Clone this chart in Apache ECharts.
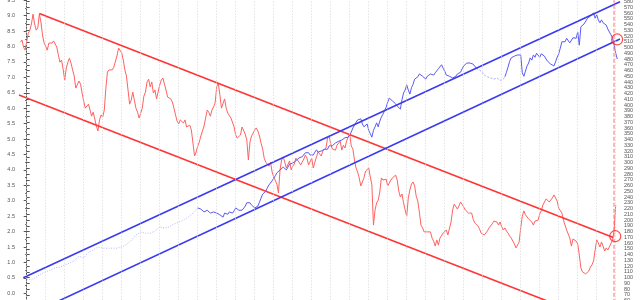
<!DOCTYPE html>
<html><head><meta charset="utf-8">
<script src="https://cdn.jsdelivr.net/npm/echarts@6/dist/echarts.min.js"></script>
<style>html,body{margin:0;padding:0;background:#fff}#c{width:640px;height:300px}</style>
</head><body><div id="c"></div>
<script>
// x unit: months since Jan 1990
const BASE_YEAR = 1990;
const gridYears = [1990,1991,1992,1993,1994,1995,1996,1997,1998,1999,2000,2001,2002,2003,2004,2005,2006,2007,2008,2009,2010,2011,2012,2013,2014,2015,2016,2017,2018,2019,2020,2021];

// red series (left axis), monthly from month -4
const yieldStart = -4;
const yieldValues = [
8.14,8.21,7.98,7.88,
7.82,8.43,8.53,8.73,9.05,8.73,8.53,8.60,9.05,8.79,8.37,8.11,
8.01,7.88,8.11,8.08,8.11,8.18,8.24,7.98,7.72,7.49,7.56,7.27,
6.91,7.30,7.49,7.62,7.46,7.24,7.04,6.65,6.65,6.88,6.78,6.49,
6.23,6.00,5.94,6.13,5.94,5.74,5.87,5.65,5.42,5.26,5.62,5.78,
5.71,5.94,6.65,7.17,7.24,7.27,7.24,7.33,7.30,7.69,7.95,7.98,
7.79,7.56,7.24,7.04,6.59,6.13,6.26,6.52,6.26,6.00,5.87,5.68,
5.62,6.00,6.39,6.52,6.85,6.94,6.69,6.85,6.49,6.59,6.30,6.36,
6.75,6.91,6.98,6.78,6.59,6.36,6.30,6.30,6.20,6.00,5.78,5.58,
5.49,5.62,5.68,5.52,5.62,5.39,5.45,5.45,5.29,4.87,4.45,4.58,
4.77,4.90,5.10,5.26,5.42,5.68,5.94,5.87,5.74,5.94,6.04,6.17,
6.69,6.81,6.43,6.00,6.04,6.30,6.00,5.84,5.81,5.68,5.65,5.39,
5.13,5.03,5.00,5.13,5.39,5.36,5.16,4.97,4.32,4.90,5.10,5.19,
5.29,5.36,5.26,5.10,4.87,4.68,4.38,4.25,4.22,4.12,4.25,3.93,
3.77,3.80,3.54,3.25,4.00,4.32,4.42,4.25,4.06,4.12,4.29,4.00,
4.12,4.19,4.38,4.42,4.25,4.16,4.19,4.35,4.48,4.38,4.16,4.22,
4.38,4.06,4.25,4.42,4.58,4.64,4.45,4.61,4.55,4.71,5.03,5.10,
4.84,4.68,4.71,4.64,4.80,4.74,4.93,4.64,4.80,4.71,4.93,5.06,
5.16,4.77,4.68,4.32,4.06,3.93,3.74,3.48,3.44,3.74,3.96,3.96,
4.06,3.77,3.51,2.21,2.70,2.93,3.02,3.28,3.74,3.67,3.61,3.70,
3.48,3.48,3.67,3.74,3.74,3.83,3.67,3.31,3.12,3.22,2.93,2.70,
2.50,3.09,3.35,3.54,3.61,3.48,3.15,2.99,2.63,2.21,2.12,1.99,
2.02,1.99,1.99,1.99,1.79,1.69,1.53,1.73,1.56,1.79,1.73,1.95,
1.99,2.05,1.89,1.92,2.31,2.70,2.89,2.86,2.73,2.83,2.96,2.96,
2.80,2.70,2.70,2.60,2.54,2.60,2.40,2.28,2.31,2.18,2.08,1.95,
1.99,1.89,1.89,2.02,2.12,2.08,2.25,2.34,2.37,2.31,2.21,2.31,
2.15,2.05,2.12,2.02,1.95,1.86,1.79,1.76,1.60,1.47,1.53,1.66,
2.12,2.50,2.67,2.54,2.57,2.41,2.47,2.31,2.21,2.34,2.28,2.37,
2.57,2.67,2.86,2.96,3.06,3.06,2.96,2.99,3.09,3.19,3.25,2.99,
2.76,2.70,2.60,2.37,2.21,2.05,2.08,1.79,1.53,1.76,1.82,1.69,
1.60,1.24,0.82,0.69,0.69,0.63,0.66,0.72,0.85,0.92,1.05,1.40,
1.73,1.63,1.50,1.66,1.53,1.37,1.47,1.40,1.50,1.56,1.73,2.05,2.86
];

// blue series (right axis)
const indexEarlyStart = 0, indexEarlyStep = 3;
const indexEarly = [97,96,101,106,110,113,117,118,122,125,129,137,134,144,148,153,151,151,151,151,153,157,164,174,179,177,177,181,188,186,188,193,196,200,205,212,221];
const indexAStart = 108;
const indexA = [221,
224,219,216,214,216,217,214,212,214,214,212,
212,210,209,207,205,212,209,210,214,214,212,216,
221,219,217,217,217,219,224,230,230,230,226,223,
221,221,224,231,238,245,247,250,256,261,264,268,
270,277,282,285,287,290,292,290,287,292,297,299,
299,301,303,306,308,308,310,311,317,318,317,313,
313,313,318,322,318,317,320,323,323,322,323,329,
330,329,332,334,336,337,337,339,341,343,343,344,
348,353,360,365,370,374,377,376,367,362,365,367,
356,350,344,356,362,369,362,372,379,384,390,396,
405,412,414,407,404,402,398,395,393,409,421,426,
435,426,419,430,436,445,445,449,454,457,450,452,
445,450,449,454,454,452,456,457,463,466,470,464,
459,452,454,450,449,447,450,450,454,457,457,463,
468,470,473,471,473,475,471,468,464];
const indexGapStart = 284;
const indexGap = [464,463,461,459,456,452,450,449,447,447,445,445,447,447,445,443,442,445,449];
const indexBStart = 302;
const indexB = [449,457,466,476,482,483,485,487,487,489,
487,456,450,459,468,473,482,478,487,483,490,487,
483,489,487,485,480,476,473,471,470,468,475,483,
489,499,510,513,510,516,513,508,510,517,515,516,
527,504,536,539,541,544,550,551,555,557,560,551,
557,548,543,548,543,544,539,532,527,522,517,504,490,480];

// trend channels [month, value]
const yieldChannelUpper = [[7.96, 9.07], [370.5, 1.81]];
const yieldChannelLower = [[-4.86, 6.43], [374.7, -1.17]];
const indexChannelUpper = [[-2.15, 99.7], [374.7, 579.6]];
const indexChannelLower = [[-4.86, 27.0], [374.7, 514.9]];
// break points (circles) and event marker
const yieldBreak = [[371.7, 1.85]];
const indexBreak = [[372.9, 514]];
const eventMonth = 370.9;

// axis ranges
const X_MIN = -4.86, X_MAX = 374.7;
const LEFT_MIN = -0.5, LEFT_MAX = 9.5, LEFT_STEP = 0.5;
const RIGHT_MIN = 50, RIGHT_MAX = 590, RIGHT_STEP = 10;

const toPairs = (start, step, arr) => arr.map((v, i) => [start + i * step, v]);
const FONT = '"Liberation Sans", Arial, sans-serif';
const AX = '#555';

const chart = echarts.init(document.getElementById('c'), null, {renderer: 'canvas'});
const yAxisCommon = {
  type: 'value', splitLine: {show: false},
  axisLine: {show: true, lineStyle: {color: AX, width: 1}},
  axisTick: {show: true, length: 3, lineStyle: {color: AX}},
  minorTick: {show: true, splitNumber: 2, length: 1.5, lineStyle: {color: AX}},
  minorSplitLine: {show: false},
};
chart.setOption({
  animation: false,
  backgroundColor: '#fff',
  grid: [
    {left: 19, right: 20, top: 0.2, height: 308.5, containLabel: false, outerBoundsMode: 'none'},
    {left: 19, right: 20, top: -4.25, height: 310.5, containLabel: false, outerBoundsMode: 'none'}
  ],
  xAxis: [
    {type: 'value', gridIndex: 0, min: X_MIN, max: X_MAX, show: false},
    {type: 'value', gridIndex: 1, min: X_MIN, max: X_MAX, show: false}
  ],
  yAxis: [
    Object.assign({}, yAxisCommon, {gridIndex: 0, position: 'left', min: LEFT_MIN, max: LEFT_MAX, interval: LEFT_STEP,
      axisLabel: {fontSize: 5.5, color: AX, margin: 4, fontFamily: FONT, formatter: v => v.toFixed(1)}}),
    Object.assign({}, yAxisCommon, {gridIndex: 1, position: 'right', min: RIGHT_MIN, max: RIGHT_MAX, interval: RIGHT_STEP,
      minorTick: {show: false},
      axisLabel: {fontSize: 5.5, color: AX, margin: 4, fontFamily: FONT, hideOverlap: false}})
  ],
  series: [
    {type: 'line', xAxisIndex: 0, yAxisIndex: 0, data: [], silent: true, z: 1,
      markLine: {silent: true, symbol: ['none', 'none'], label: {show: false}, animation: false,
        lineStyle: {color: '#d6d6d6', type: [1, 2], width: 1},
        data: gridYears.map(y => ({xAxis: (y - BASE_YEAR) * 12}))}},
    {type: 'line', xAxisIndex: 0, yAxisIndex: 0, data: [], silent: true, z: 2,
      markLine: {silent: true, symbol: ['none', 'none'], label: {show: false}, animation: false,
        lineStyle: {color: 'rgba(255,110,110,0.5)', type: [4, 2], width: 2},
        data: [{xAxis: eventMonth}]}},
    {type: 'line', xAxisIndex: 0, yAxisIndex: 0, data: toPairs(yieldStart, 1, yieldValues), showSymbol: false, z: 3,
      lineStyle: {color: '#ff6262', width: 1}},
    {type: 'line', xAxisIndex: 1, yAxisIndex: 1, data: toPairs(indexEarlyStart, indexEarlyStep, indexEarly), showSymbol: false, z: 3,
      lineStyle: {color: '#b4b8ff', width: 1, type: [1, 1.5]}},
    {type: 'line', xAxisIndex: 1, yAxisIndex: 1, data: toPairs(indexAStart, 1, indexA), showSymbol: false, z: 3,
      lineStyle: {color: '#5a5af5', width: 1}},
    {type: 'line', xAxisIndex: 1, yAxisIndex: 1, data: toPairs(indexGapStart, 1, indexGap), showSymbol: false, z: 3,
      lineStyle: {color: '#a6aaff', width: 1, type: [2, 1.5]}},
    {type: 'line', xAxisIndex: 1, yAxisIndex: 1, data: toPairs(indexBStart, 1, indexB), showSymbol: false, z: 3,
      lineStyle: {color: '#5a5af5', width: 1}},
    {type: 'line', xAxisIndex: 0, yAxisIndex: 0, data: yieldChannelUpper, showSymbol: false, z: 4, lineStyle: {color: '#ff3434', width: 1.6}},
    {type: 'line', xAxisIndex: 0, yAxisIndex: 0, data: yieldChannelLower, showSymbol: false, z: 4, lineStyle: {color: '#ff3434', width: 1.6}},
    {type: 'line', xAxisIndex: 1, yAxisIndex: 1, data: indexChannelUpper, showSymbol: false, z: 4, lineStyle: {color: '#3a3af0', width: 1.6}},
    {type: 'line', xAxisIndex: 1, yAxisIndex: 1, data: indexChannelLower, showSymbol: false, z: 4, lineStyle: {color: '#3a3af0', width: 1.6}},
    {type: 'scatter', xAxisIndex: 0, yAxisIndex: 0, data: yieldBreak, symbol: 'circle', symbolSize: 11, z: 5,
      itemStyle: {color: 'rgba(0,0,0,0)', borderColor: '#ff2020', borderWidth: 1.2}},
    {type: 'scatter', xAxisIndex: 1, yAxisIndex: 1, data: indexBreak, symbol: 'circle', symbolSize: 11, z: 5,
      itemStyle: {color: 'rgba(0,0,0,0)', borderColor: '#ff2020', borderWidth: 1.2}}
  ]
});
</script></body></html>
